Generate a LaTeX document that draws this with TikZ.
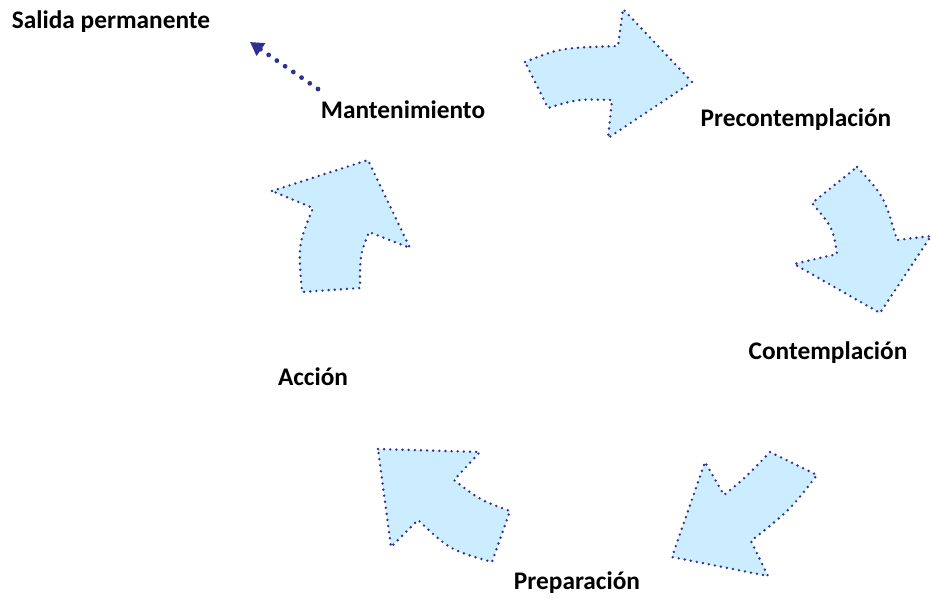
\documentclass[tikz,border=0pt]{standalone}
\usepackage{fontspec}
\setmainfont{Carlito}
\usetikzlibrary{arrows.meta}
\usetikzlibrary{positioning}

\definecolor{cycleblue}{RGB}{46,49,146}
\definecolor{cyclefill}{RGB}{204,236,255}

\begin{document}
\begin{tikzpicture}[x=0.75pt, y=-0.75pt,
        stagearrow/.style={draw=cycleblue, fill=cyclefill, line width=2pt, dash pattern=on 0pt off 4.6pt, line cap=round, line join=round},
        stagelabel/.style={font=\fontsize{19}{23}\selectfont\bfseries, inner sep=1pt},
        exitarrow/.style={draw=cycleblue, line width=3.6pt, dash pattern=on 0pt off 7.5pt, line cap=round, -{Triangle[length=10pt, width=11pt, fill=cycleblue]}}]
            \useasboundingbox (0,0) rectangle (932,601);
            %Nodes
            \node[stagelabel]   (salida)   at (111,22)   {Salida permanente};
            \node[stagelabel]   (mant)     at (403,110)  {Mantenimiento};
            \node[stagelabel]   (precont)  at (796,120)  {Precontemplación};
            \node[stagelabel]   (cont)     at (828,353)  {Contemplación};
            \node[stagelabel]   (accion)   at (313,377)  {Acción};
            \node[stagelabel]   (prep)     at (577,583)  {Preparación};
            %Arrows
            \draw[stagearrow] (525,62) .. controls (560,48) .. (618,46) -- (623,9) -- (692,82) -- (608,138) -- (612,100) .. controls (578,99) .. (548,108) -- cycle;
            \draw[stagearrow] (857,167) .. controls (884,196) .. (897,240) -- (931,236) -- (880,313) -- (794,264) -- (837,254) .. controls (833,228) .. (812,203) -- cycle;
            \draw[stagearrow] (770,452) -- (817,475) .. controls (790,510) .. (751,541) -- (768,576) -- (672,557) -- (705,462) -- (724,495) .. controls (745,478) .. cycle;
            \draw[stagearrow] (378,449) -- (480,452) -- (454,480) .. controls (480,500) .. (510,511) -- (492,562) .. controls (450,550) .. (418,520) -- (391,547) -- cycle;
            \draw[stagearrow] (272,191) -- (368,160) -- (410,248) -- (369,232) .. controls (360,255) .. (360,288) -- (302,292) .. controls (298,245) .. (313,208) -- cycle;
            %Exit
            \coordinate (exitstart) at (318,89);
            \coordinate (exitend)   at (250,42);
            \draw[exitarrow] (exitstart) -- (exitend);
\end{tikzpicture}
\end{document}
